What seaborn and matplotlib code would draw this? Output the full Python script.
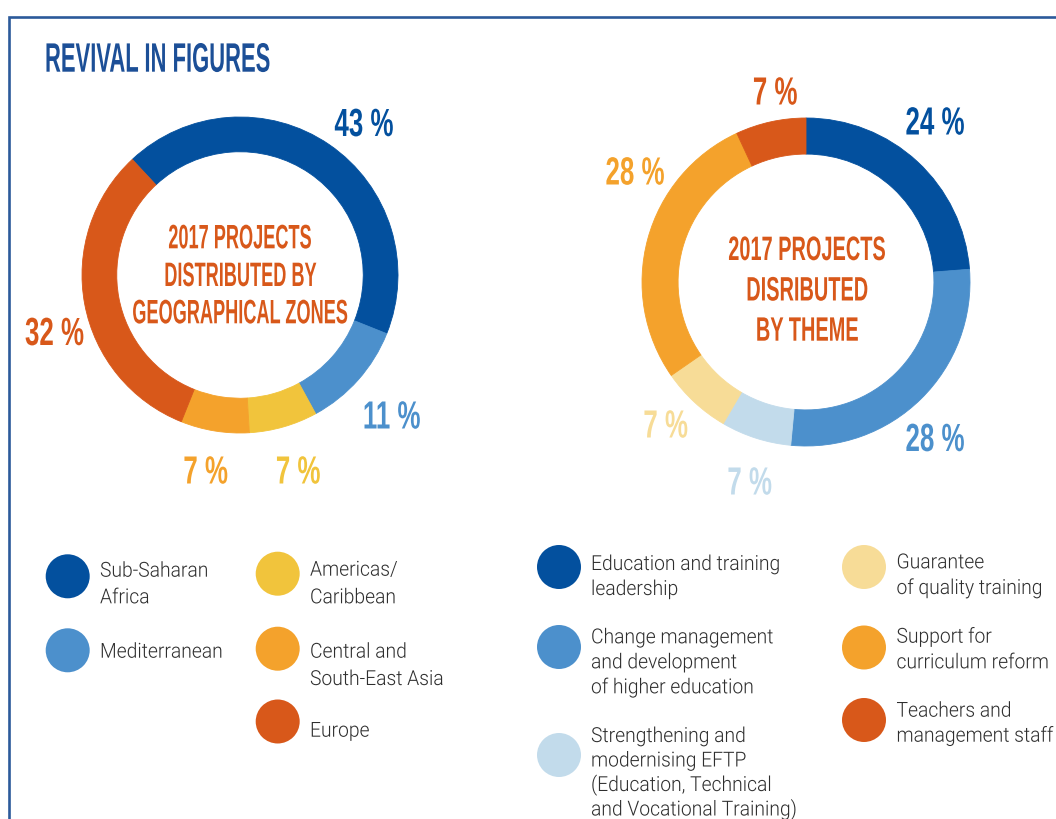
import matplotlib
matplotlib.use("Agg")
import matplotlib.pyplot as plt
import seaborn as sns
import pandas as pd
from matplotlib import patheffects, font_manager
from matplotlib.transforms import Affine2D
from matplotlib.textpath import TextPath
from matplotlib.font_manager import FontProperties

# ---------------- data ----------------
geo_zones = ["Sub-Saharan\nAfrica", "Mediterranean", "Americas/\nCaribbean",
             "Central and\nSouth-East Asia", "Europe"]
geo_values = [43, 11, 7, 7, 32]

theme_names = ["Education and training\nleadership",
               "Change management\nand development\nof higher education",
               "Strengthening and\nmodernising EFTP\n(Education, Technical\nand Vocational Training)",
               "Guarantee\nof quality training",
               "Support for\ncurriculum reform",
               "Teachers and\nmanagement staff"]
theme_values = [24, 28, 7, 7, 28, 7]

title_text = "REVIVAL IN FIGURES"
geo_center = ["2017 PROJECTS", "DISTRIBUTED BY", "GEOGRAPHICAL ZONES"]
theme_center = ["2017 PROJECTS", "DISRIBUTED", "BY THEME"]

# ---------------- style ----------------
DARK_BLUE = "#03509e"
MID_BLUE = "#4c90cc"
LIGHT_BLUE = "#c2dbeb"
YELLOW = "#f1c43c"
ORANGE = "#f4a22c"
LIGHT_YELLOW = "#f7dc97"
DARK_ORANGE = "#d8581a"
TITLE_BLUE = "#1c4f97"
FRAME_BLUE = "#2c5a9a"
TEXT_GREY = "#2e2e2e"

geo_colors = [DARK_BLUE, MID_BLUE, YELLOW, ORANGE, DARK_ORANGE]
theme_colors = [DARK_BLUE, MID_BLUE, LIGHT_BLUE, LIGHT_YELLOW, ORANGE, DARK_ORANGE]

sns.set_theme(style="white")

names = {f.name for f in font_manager.fontManager.ttflist}


def wnum(w):
    if isinstance(w, (int, float)):
        return w
    return font_manager.weight_dict.get(w, 400)


cond_family = next((n for n in ["Liberation Sans Narrow", "Liberation Sans", "DejaVu Sans"]
                    if n in names), "DejaVu Sans")
light_family, light_weight = "Liberation Sans", "normal"
for fam in ["Roboto", "Lato", "Open Sans"]:
    if any(f.name == fam and wnum(f.weight) <= 300 for f in font_manager.fontManager.ttflist):
        light_family, light_weight = fam, 300
        break
if light_family not in names:
    light_family = "DejaVu Sans"

plt.rcParams["font.family"] = [cond_family, "DejaVu Sans"]

DPI = 100
W, H = 1056, 819


class Condense(patheffects.AbstractPathEffect):
    """Horizontally condense each text line (the text stays a Text artist)."""

    def __init__(self, sx, anchor="center"):
        super().__init__()
        self.sx = sx
        self.anchor = anchor

    def draw_path(self, renderer, gc, tpath, affine, rgbFace=None):
        ext = tpath.get_extents()
        cx = 0.0 if self.anchor == "left" else 0.5 * (ext.x0 + ext.x1)
        t = Affine2D().translate(-cx, 0).scale(self.sx, 1).translate(cx, 0) + affine
        renderer.draw_path(gc, tpath, t, rgbFace)


def fit_font(fp, cap_px, ref_str, ref_w):
    h = TextPath((0, 0), "H", size=100, prop=fp).get_extents().height / 100.0
    em = cap_px / h
    w = TextPath((0, 0), ref_str, size=em, prop=fp).get_extents().width
    return em * 72.0 / DPI, min(1.0, ref_w / w)


fp_cond = FontProperties(family=cond_family, weight="bold")
fp_light = FontProperties(family=light_family, weight=light_weight)

title_pt, title_sx = fit_font(fp_cond, 28.3, title_text, 223)
cl_pt, cl_sx = fit_font(fp_cond, 23.3, "2017 PROJECTS", 142)
cr_pt, cr_sx = fit_font(fp_cond, 23.3, "2017 PROJECTS", 156)
pct_pt, pct_sx = fit_font(fp_cond, 27, "43 %", 58)
leg_pt, leg_sx = fit_font(fp_light, 14.7, "Education and training", 186)

fig = plt.figure(figsize=(W / DPI, H / DPI), dpi=DPI)
fig.patch.set_facecolor("white")

# background axes in pixel coordinates
bg = fig.add_axes([0, 0, 1, 1])
bg.set_xlim(0, W)
bg.set_ylim(H, 0)
bg.axis("off")

# frame
bg.plot([8.5, 8.5, W + 10], [H + 10, 16.5, 16.5], color=FRAME_BLUE, lw=1.9,
        solid_joinstyle="miter", clip_on=False)

bg.text(45, 71.7, title_text, color=TITLE_BLUE, fontproperties=fp_cond,
        fontsize=title_pt, ha="left", va="baseline",
        path_effects=[Condense(title_sx, "left")])


def donut(cx, cy, r, values, colors, start):
    ax = fig.add_axes([(cx - r) / W, (H - cy - r) / H, 2 * r / W, 2 * r / H])
    wedges, _ = ax.pie(values, colors=colors, startangle=start, counterclock=False,
                       radius=1, wedgeprops=dict(width=0.22, linewidth=0.6))
    for w in wedges:
        w.set_edgecolor(w.get_facecolor())
    ax.set_xlim(-1.0, 1.0)
    ax.set_ylim(-1.0, 1.0)
    ax.set_aspect("equal")
    ax.patch.set_alpha(0)
    ax.axis("off")
    return ax


donut(240, 275, 158, geo_values, geo_colors, 133)
donut(806, 282, 164, theme_values, theme_colors, 90)

# centre texts
for line, yb in zip(geo_center, [248.3, 286, 323.3]):
    bg.text(240, yb, line, color=DARK_ORANGE, fontproperties=fp_cond, fontsize=cl_pt,
            ha="center", va="baseline", path_effects=[Condense(cl_sx)])
for line, yb in zip(theme_center, [260, 300.5, 340.7]):
    bg.text(807, yb, line, color=DARK_ORANGE, fontproperties=fp_cond, fontsize=cr_pt,
            ha="center", va="baseline", path_effects=[Condense(cr_sx)])

# percentage labels (label centres)
geo_label_pos = [(364, 122.5), (391.5, 415), (298, 470), (205.5, 470), (54.5, 331.5)]
theme_label_pos = [(935, 121), (935, 437.5), (749.5, 481), (665.5, 424), (635, 171), (775, 91)]
for vals, cols, pos in [(geo_values, geo_colors, geo_label_pos),
                        (theme_values, theme_colors, theme_label_pos)]:
    for v, c, (x, y) in zip(vals, cols, pos):
        bg.text(x, y + 13.5, f"{v} %", color=c, fontproperties=fp_cond, fontsize=pct_pt,
                ha="center", va="baseline", path_effects=[Condense(pct_sx)])

# legends: circles via seaborn
leg_geo_pos = [(67.7, 576.3), (67.7, 650.3), (277.7, 573.7), (277.7, 648.7), (277.7, 721.5)]
leg_theme_pos = [(559, 567), (559, 647), (559, 755), (864, 567), (864, 647.5), (864, 720)]
leg_df = pd.DataFrame({
    "x": [p[0] for p in leg_geo_pos + leg_theme_pos],
    "y": [p[1] for p in leg_geo_pos + leg_theme_pos],
    "name": geo_zones + theme_names,
})
sns.scatterplot(data=leg_df, x="x", y="y", hue="name",
                palette=dict(zip(geo_zones + theme_names, geo_colors + theme_colors)),
                s=(44 * 72 / DPI) ** 2, linewidth=0, legend=False, ax=bg, clip_on=False)
bg.set_xlim(0, W)
bg.set_ylim(H, 0)
bg.axis("off")

geo_text_x = [100, 100, 310, 310, 310]
geo_baselines = [[576.7, 603.3], [657.7], [575.7, 603.3], [657.7, 685], [736.7]]
theme_text_x = [591, 591, 591, 896.5, 896.5, 896.5]
theme_baselines = [[570, 595], [643.3, 668.3, 693.3], [742, 766.5, 791, 815.5],
                   [568.3, 594], [642.7, 668.3], [716.7, 741.7]]
for labels, xs, bls in [(geo_zones, geo_text_x, geo_baselines),
                        (theme_names, theme_text_x, theme_baselines)]:
    for lab, x, bl in zip(labels, xs, bls):
        for line, yb in zip(lab.split("\n"), bl):
            bg.text(x, yb, line, color=TEXT_GREY, fontproperties=fp_light, fontsize=leg_pt,
                    ha="left", va="baseline", path_effects=[Condense(leg_sx, "left")])

fig.savefig("out.png", dpi=DPI, facecolor="white")
